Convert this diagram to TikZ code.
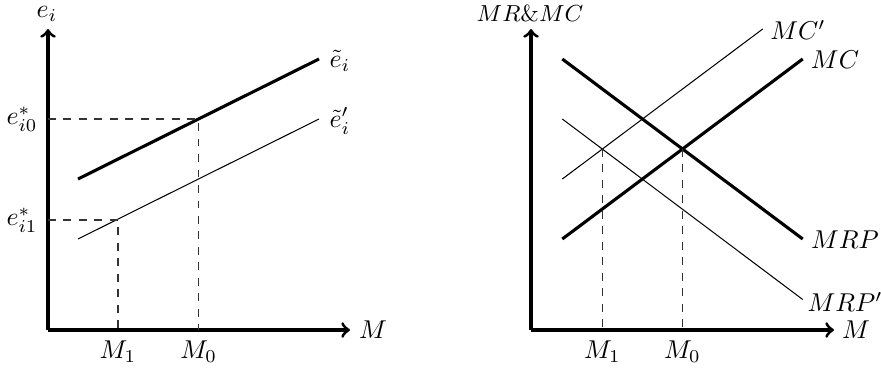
\documentclass[tikz,border=0pt]{standalone}
\usetikzlibrary{arrows}
\begin{document}
\begin{tikzpicture}[x=0.3876pt,y=-0.3876pt,
  axis/.style={very thick,->},
  curvethick/.style={very thick},
  curvethin/.style={thin},
  guide/.style={dashed,thin,black!80},
  lbl/.style={inner sep=0pt}]
\useasboundingbox (0,0) rectangle (881,367);
% ---------- left panel ----------
\coordinate (O1) at (48,330);
\coordinate (Y1) at (48,29);
\coordinate (X1) at (350,330);
\draw[axis] (O1) -- (Y1);
\draw[axis] (O1) -- (X1);
\coordinate (ea) at (78,179);
\coordinate (eb) at (319,59);
\coordinate (fa) at (78,239);
\coordinate (fb) at (319,119);
\draw[curvethick] (ea) -- (eb);
\draw[curvethin] (fa) -- (fb);
\coordinate (P0) at (198.7,119);
\coordinate (P1) at (118,220);
\coordinate (A0) at (48,119);
\coordinate (A1) at (48,220);
\coordinate (B0) at (198.7,330);
\coordinate (B1) at (118,330);
\draw[guide] (A0) -- (P0) -- (B0);
\draw[guide] (A1) -- (P1) -- (B1);
\node[lbl] (lei) at (47,14) {$e_i$};
\node[lbl] (le0) at (22,119) {$e^*_{i0}$};
\node[lbl] (le1) at (22,220) {$e^*_{i1}$};
\node[lbl] (lt) at (340,61) {$\tilde{e}_i$};
\node[lbl] (ltp) at (340,121) {$\tilde{e}'_i$};
\node[lbl] (lM) at (373,330) {$M$};
\node[lbl] (lM1) at (118,352) {$M_1$};
\node[lbl] (lM0) at (198.7,352) {$M_0$};
% ---------- right panel ----------
\coordinate (O2) at (531,330);
\coordinate (Y2) at (531,29);
\coordinate (X2) at (834,330);
\draw[axis] (O2) -- (Y2);
\draw[axis] (O2) -- (X2);
\coordinate (mrpa) at (562.3,59);
\coordinate (mrpb) at (802.7,239);
\coordinate (mca) at (562.3,239);
\coordinate (mcb) at (802.7,59);
\coordinate (mcpa) at (562.3,179);
\coordinate (mcpb) at (762.7,29);
\coordinate (mrppa) at (562.3,119);
\coordinate (mrppb) at (802.7,299.5);
\draw[curvethick] (mrpa) -- (mrpb);
\draw[curvethick] (mca) -- (mcb);
\draw[curvethin] (mcpa) -- (mcpb);
\draw[curvethin] (mrppa) -- (mrppb);
\coordinate (Q0) at (682.5,149);
\coordinate (Q1) at (602.3,149);
\coordinate (C0) at (682.5,330);
\coordinate (C1) at (602.3,330);
\draw[guide] (Q0) -- (C0);
\draw[guide] (Q1) -- (C1);
\node[lbl] (lmrmc) at (530,13) {\small $MR\&MC$};
\node[lbl] (lmcp) at (798,30) {$MC'$};
\node[lbl] (lmc) at (835,60) {$MC$};
\node[lbl] (lmrp) at (845,240) {$MRP$};
\node[lbl] (lmrpp) at (845,302) {$MRP'$};
\node[lbl] (lM2) at (856,330) {$M$};
\node[lbl] (lM12) at (602.3,352) {$M_1$};
\node[lbl] (lM02) at (682.5,352) {$M_0$};
\end{tikzpicture}
\end{document}
